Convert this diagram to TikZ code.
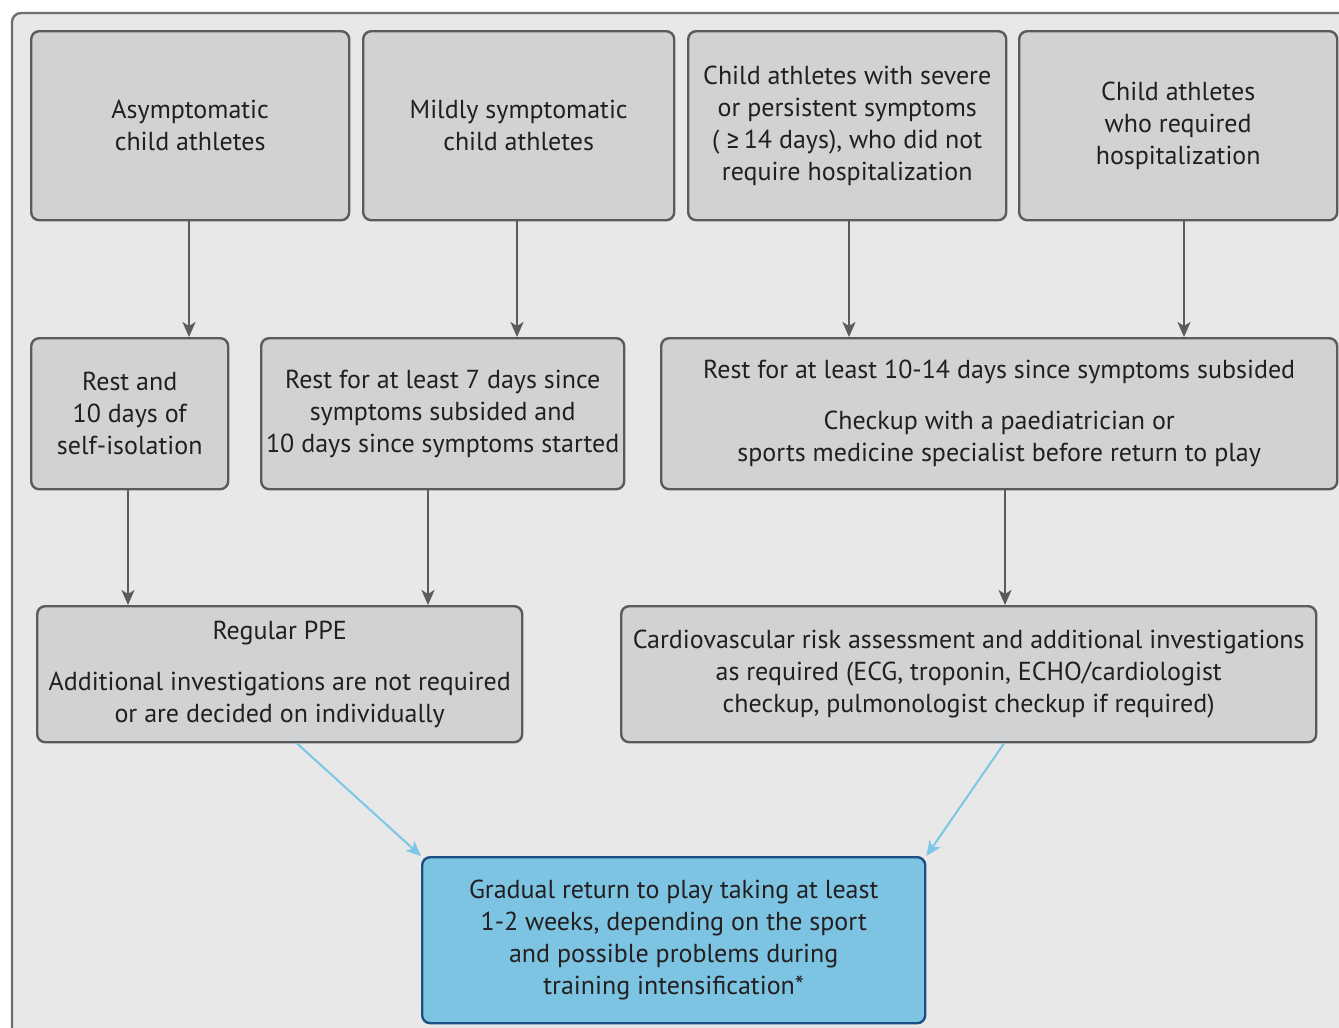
\documentclass[tikz,border=0pt]{standalone}
\usepackage{fontspec}
\setmainfont{PT Sans}
\newfontfamily\symfont{Fira Sans}
\usetikzlibrary{arrows.meta}
\definecolor{bgc}{HTML}{E8E8E8}
\definecolor{framec}{HTML}{6D6E70}
\definecolor{boxc}{HTML}{D1D2D4}
\definecolor{borderc}{HTML}{5A5B5D}
\definecolor{txtc}{HTML}{231F20}
\definecolor{bluefill}{HTML}{7DC4E3}
\definecolor{blueborder}{HTML}{1D4E86}
\definecolor{bluearrow}{HTML}{7CC6E6}
\tikzset{
  box/.style={draw=borderc, fill=boxc, line width=2.4pt, rounded corners=8pt,
    anchor=north west, inner sep=0pt, align=center, text=txtc,
    font=\fontsize{26}{32}\selectfont},
  goalbox/.style={box, draw=blueborder, fill=bluefill},
  grayarrow/.style={draw=borderc, line width=2pt, -{Stealth[length=15pt,width=13pt,inset=4pt]}},
  bluearr/.style={draw=bluearrow, line width=2pt, -{Stealth[length=15pt,width=13pt,inset=4pt]}}
}
\begin{document}
\begin{tikzpicture}[x=1pt,y=-1pt]
\useasboundingbox (0,0) rectangle (1339,1028);
\begin{scope}
\clip (0,0) rectangle (1339,1028);
\draw[draw=framec, fill=bgc, line width=2.4pt, rounded corners=9pt] (12,13) rectangle (1360,1060);
\end{scope}
% top row
\node[box, minimum width=318pt, minimum height=189pt] (a1) at (30,30) {Asymptomatic\\child athletes};
\node[box, minimum width=311pt, minimum height=189pt] (a2) at (362,30) {Mildly symptomatic\\child athletes};
\node[box, minimum width=318pt, minimum height=189pt] (a3) at (687,30) {Child athletes with severe\\or persistent symptoms\\( {\symfont ≥}\,14 days), who did not\\require hospitalization};
\node[box, minimum width=318pt, minimum height=189pt] (a4) at (1018,30) {Child athletes\\who required\\hospitalization};
% second row
\node[box, minimum width=197pt, minimum height=151pt] (b1) at (30,337) {Rest and\\10 days of\\self-isolation};
\node[box, minimum width=363pt, minimum height=151pt] (b2) at (260,337) {Rest for at least 7 days since\\symptoms subsided and\\10 days since symptoms started};
\node[box, minimum width=676pt, minimum height=151pt] (b3) at (660,337) {Rest for at least 10-14 days since symptoms subsided\\[19pt]Checkup with a paediatrician or\\sports medicine specialist before return to play};
% third row
\node[box, minimum width=485pt, minimum height=136pt] (c1) at (36,605) {Regular PPE\\[19pt]Additional investigations are not required\\or are decided on individually};
\node[box, minimum width=695pt, minimum height=136pt] (c2) at (620,605) {Cardiovascular risk assessment and additional investigations\\as required (ECG, troponin, ECHO/cardiologist\\checkup, pulmonologist checkup if required)};
% goal
\node[goalbox, minimum width=503pt, minimum height=166pt] (d) at (421,856) {Gradual return to play taking at least\\1-2 weeks, depending on the sport\\and possible problems during\\training intensification*};
% arrows
\draw[grayarrow] (a1.south -| 189,0) -- (b1.north -| 189,0);
\draw[grayarrow] (a2.south -| 517,0) -- (b2.north -| 517,0);
\draw[grayarrow] (a3.south -| 849,0) -- (b3.north -| 849,0);
\draw[grayarrow] (a4.south -| 1184,0) -- (b3.north -| 1184,0);
\draw[grayarrow] (b1.south -| 128,0) -- (c1.north -| 128,0);
\draw[grayarrow] (b2.south -| 428,0) -- (c1.north -| 428,0);
\draw[grayarrow] (b3.south -| 1005,0) -- (c2.north -| 1005,0);
\draw[bluearr] (c1.south -| 297,0) -- (d.north west);
\draw[bluearr] (c2.south -| 1004,0) -- (d.north east);
\end{tikzpicture}
\end{document}
